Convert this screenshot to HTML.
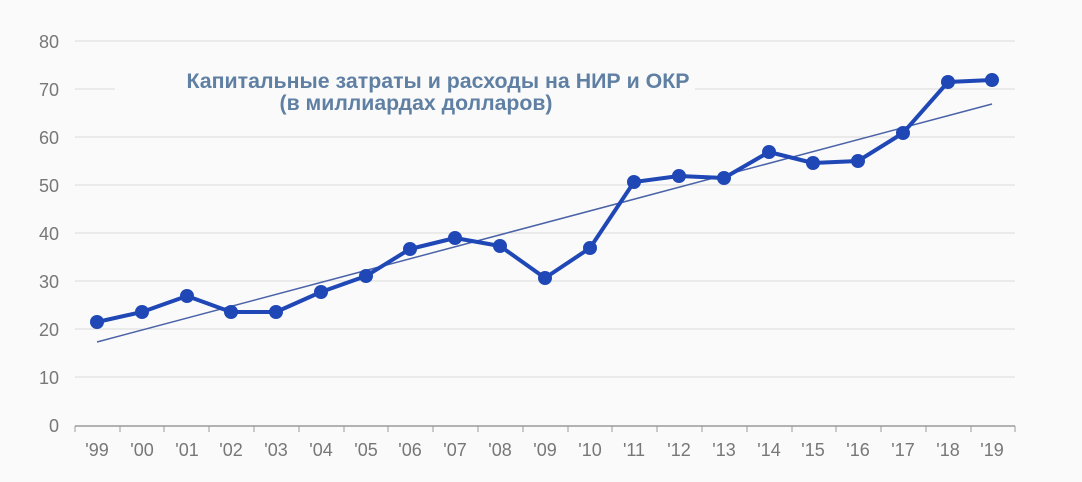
<!DOCTYPE html>
<html><head><meta charset="utf-8"><style>
html,body{margin:0;padding:0;background:#fff;}
svg{display:block;font-family:"Liberation Sans",sans-serif;}
</style></head><body>
<svg width="1082" height="482" viewBox="0 0 1082 482" xmlns="http://www.w3.org/2000/svg">
<rect width="1082" height="482" fill="#fafafa"/>
<g stroke="#d9d9d9" stroke-width="1">
<line x1="75" y1="41" x2="1015" y2="41"/>
<line x1="75" y1="89" x2="1015" y2="89"/>
<line x1="75" y1="137" x2="1015" y2="137"/>
<line x1="75" y1="185" x2="1015" y2="185"/>
<line x1="75" y1="233" x2="1015" y2="233"/>
<line x1="75" y1="281" x2="1015" y2="281"/>
<line x1="75" y1="329" x2="1015" y2="329"/>
<line x1="75" y1="377" x2="1015" y2="377"/>
</g>
<rect x="115" y="64" width="580" height="50" fill="#fafafa"/>
<line x1="75" y1="426" x2="1015" y2="426" stroke="#999" stroke-width="1.5"/>
<g stroke="#999" stroke-width="1">
<line x1="75" y1="426" x2="75" y2="432"/><line x1="120" y1="426" x2="120" y2="432"/><line x1="164" y1="426" x2="164" y2="432"/><line x1="209" y1="426" x2="209" y2="432"/><line x1="254" y1="426" x2="254" y2="432"/><line x1="299" y1="426" x2="299" y2="432"/><line x1="344" y1="426" x2="344" y2="432"/><line x1="388" y1="426" x2="388" y2="432"/><line x1="433" y1="426" x2="433" y2="432"/><line x1="478" y1="426" x2="478" y2="432"/><line x1="523" y1="426" x2="523" y2="432"/><line x1="568" y1="426" x2="568" y2="432"/><line x1="612" y1="426" x2="612" y2="432"/><line x1="657" y1="426" x2="657" y2="432"/><line x1="702" y1="426" x2="702" y2="432"/><line x1="747" y1="426" x2="747" y2="432"/><line x1="792" y1="426" x2="792" y2="432"/><line x1="836" y1="426" x2="836" y2="432"/><line x1="881" y1="426" x2="881" y2="432"/><line x1="926" y1="426" x2="926" y2="432"/><line x1="971" y1="426" x2="971" y2="432"/><line x1="1015" y1="426" x2="1015" y2="432"/>
</g>
<g fill="#777" font-size="18" text-anchor="end">
<text x="59" y="48">80</text><text x="59" y="96">70</text><text x="59" y="144">60</text><text x="59" y="192">50</text><text x="59" y="240">40</text><text x="59" y="288">30</text><text x="59" y="336">20</text><text x="59" y="384">10</text><text x="59" y="432">0</text>
</g>
<g fill="#777" font-size="18" text-anchor="middle">
<text x="97" y="456">'99</text><text x="142" y="456">'00</text><text x="187" y="456">'01</text><text x="231" y="456">'02</text><text x="276" y="456">'03</text><text x="321" y="456">'04</text><text x="366" y="456">'05</text><text x="410" y="456">'06</text><text x="455" y="456">'07</text><text x="500" y="456">'08</text><text x="545" y="456">'09</text><text x="590" y="456">'10</text><text x="634" y="456">'11</text><text x="679" y="456">'12</text><text x="724" y="456">'13</text><text x="769" y="456">'14</text><text x="813" y="456">'15</text><text x="858" y="456">'16</text><text x="903" y="456">'17</text><text x="948" y="456">'18</text><text x="992" y="456">'19</text>
</g>
<g fill="#5f7fa3" font-size="21" font-weight="bold" text-anchor="middle">
<text x="438" y="88" textLength="503" lengthAdjust="spacingAndGlyphs">Капитальные затраты и расходы на НИР и ОКР</text>
<text x="416" y="110" textLength="273" lengthAdjust="spacingAndGlyphs">(в миллиардах долларов)</text>
</g>
<line x1="97" y1="342" x2="992" y2="104" stroke="#4a62a8" stroke-width="1.5"/>
<polyline fill="none" stroke="#1f47b5" stroke-width="4" stroke-linejoin="round" points="97,322 142,312 187,296 231,312 276,312 321,292 366,276 410,249 455,238 500,246 545,278 590,248 634,182 679,176 724,178 769,152 813,163 858,161 903,133 948,82 992,80"/>
<g fill="#1f47b5">
<circle cx="97" cy="322" r="7"/><circle cx="142" cy="312" r="7"/><circle cx="187" cy="296" r="7"/><circle cx="231" cy="312" r="7"/><circle cx="276" cy="312" r="7"/><circle cx="321" cy="292" r="7"/><circle cx="366" cy="276" r="7"/><circle cx="410" cy="249" r="7"/><circle cx="455" cy="238" r="7"/><circle cx="500" cy="246" r="7"/><circle cx="545" cy="278" r="7"/><circle cx="590" cy="248" r="7"/><circle cx="634" cy="182" r="7"/><circle cx="679" cy="176" r="7"/><circle cx="724" cy="178" r="7"/><circle cx="769" cy="152" r="7"/><circle cx="813" cy="163" r="7"/><circle cx="858" cy="161" r="7"/><circle cx="903" cy="133" r="7"/><circle cx="948" cy="82" r="7"/><circle cx="992" cy="80" r="7"/>
</g>
</svg>
</body></html>
